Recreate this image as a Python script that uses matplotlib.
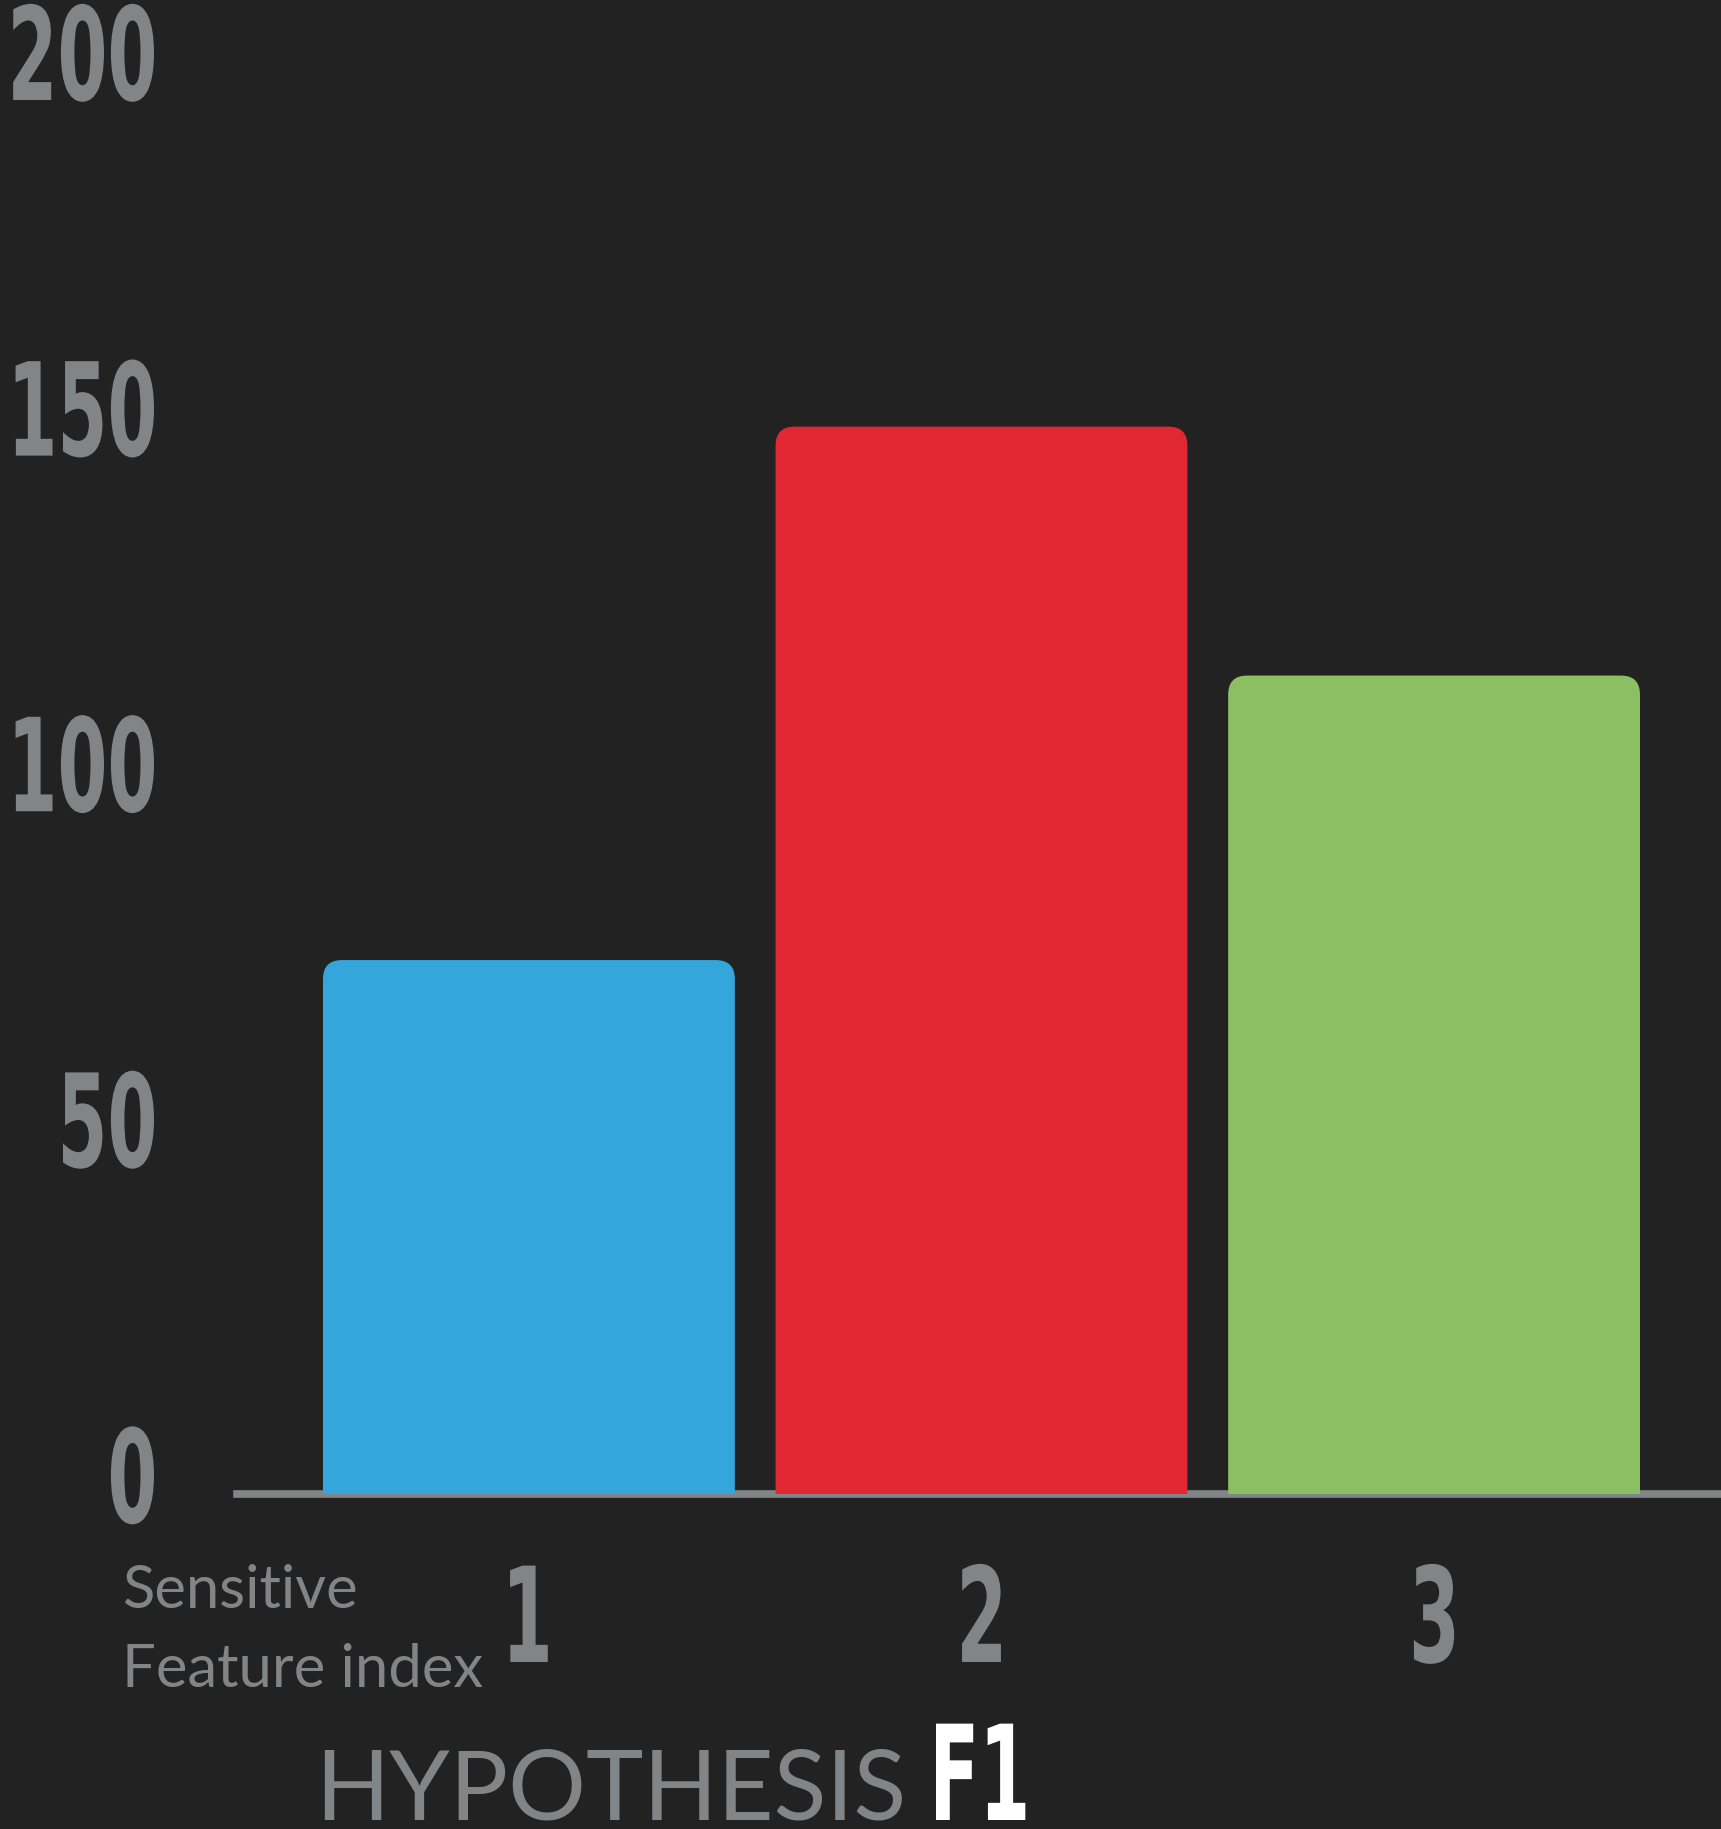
import numpy as np
import matplotlib
matplotlib.use("Agg")
import matplotlib.pyplot as plt
from matplotlib.patches import FancyBboxPatch, PathPatch
from matplotlib.textpath import TextPath
from matplotlib.font_manager import FontProperties
from matplotlib import transforms

indices = [1, 2, 3]
counts = [75, 150, 115]
bar_colors = ["#34A6DC", "#E12832", "#8CBE62"]
yticks = [0, 50, 100, 150, 200]

bg = "#222222"
grey = "#818587"

W, H = 1721, 1829
fig = plt.figure(figsize=(W / 100, H / 100), dpi=100, facecolor=bg)
ax = fig.add_axes([237 / W, 1 - 1493.5 / H, 1 - 237 / W, (1493.5 - 71) / H])
ax.set_xlim(0.355, 3.634)
ax.set_ylim(0, 200)
ax.axis("off")

# condensed bold digits: squeeze a narrow bold face horizontally
num_font = FontProperties(family=["Liberation Sans Narrow", "DejaVu Sans"], weight="bold")
zero = TextPath((0, 0), "0", size=100, prop=num_font).get_extents()
narrow = 0.44 * zero.height / zero.width


def din_text(x, y, s, trans, color, height=98, ha="center", dy=0):
    path = TextPath((0, 0), s, size=100, prop=num_font)
    ext = path.get_extents()
    x0 = {"left": ext.x0, "center": (ext.x0 + ext.x1) / 2, "right": ext.x1}[ha]
    sy = height / zero.height
    tr = (transforms.Affine2D().translate(-x0, 0).scale(sy * narrow, sy).translate(0, dy)
          + transforms.ScaledTranslation(x, y, trans))
    fig.add_artist(PathPatch(path, transform=tr, facecolor=color, edgecolor="none"))


# baseline
ax.axhline(0, color=grey, lw=5.5, zorder=1, clip_on=False)

# bars with rounded top corners (bottom part hidden below the axis)
px_x = (W - 237) / (3.634 - 0.355)
px_y = (1493.5 - 71) / 200
r = 19 / px_x
aspect = (19 / px_y) / r
width = 0.91
for i, v, c in zip(indices, counts, bar_colors):
    bar = FancyBboxPatch((i - width / 2, -20), width, v + 20,
                         boxstyle=f"round,pad=0,rounding_size={r}",
                         mutation_aspect=aspect, facecolor=c, edgecolor="none", zorder=2)
    ax.add_patch(bar)

# y tick labels
ytrans = transforms.blended_transform_factory(ax.transAxes, ax.transData)
for t in yticks:
    din_text((154 - 237) / (W - 237), t, str(t), ytrans, grey, ha="right", dy=-29)

# x tick labels
xtrans = transforms.blended_transform_factory(ax.transData, ax.transData)
for i in indices:
    din_text(i, 0, str(i), xtrans, grey, height=100, dy=-(1662 - 1493.5))

fig.text(122 / W, 1 - 1608 / H, "Sensitive", color=grey, fontsize=43,
         family="Lato", va="baseline", ha="left")
fig.text(122 / W, 1 - 1687 / H, "Feature index", color=grey, fontsize=43,
         family="Lato", va="baseline", ha="left")
fig.text(315 / W, 1 - 1820 / H, "HYPOTHESIS", color=grey, fontsize=70,
         family="Lato", va="baseline", ha="left")
din_text(936 / W, 1 - 1820 / H, "F1", fig.transFigure, "white", height=100, ha="left")

fig.savefig("out.png", dpi=100, facecolor=bg)
